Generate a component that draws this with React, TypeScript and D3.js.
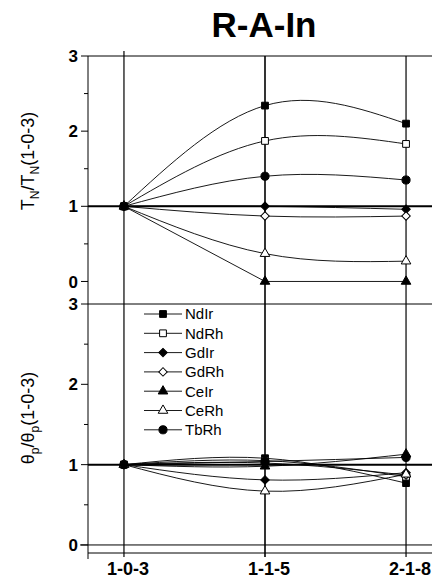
import React from "react";
import * as d3 from "d3";

const categories = ["1-0-3", "1-1-5", "2-1-8"];
const seriesNames = ["NdIr", "NdRh", "GdIr", "GdRh", "CeIr", "CeRh", "TbRh"];
const seriesShapes = ["square", "square", "diamond", "diamond", "triangle", "triangle", "circle"];
const seriesFilled = [true, false, true, false, true, false, true];

// Top panel: T_N / T_N(1-0-3)
const tnNdIr = [1, 2.34, 2.1];
const tnNdRh = [1, 1.87, 1.83];
const tnGdIr = [1, 1.0, 0.96];
const tnGdRh = [1, 0.87, 0.87];
const tnCeIr = [1, 0.0, 0.0];
const tnCeRh = [1, 0.37, 0.27];
const tnTbRh = [1, 1.4, 1.35];

// Bottom panel: theta_p / theta_p(1-0-3)
const thNdIr = [1, 1.08, 0.77];
const thNdRh = [1, 1.05, 0.85];
const thGdIr = [1, 0.81, 0.9];
const thGdRh = [1, 1.02, 0.87];
const thCeIr = [1, 0.98, 1.13];
const thCeRh = [1, 0.67, 0.88];
const thTbRh = [1, 1.04, 1.09];

const topTicks = [0, 1, 2, 3];
const topMinor = [0.5, 1.5, 2.5];
const botTicks = [0, 1, 2, 3];
const botMinor = [0.5, 1.5, 2.5];

const topSeries = [tnNdIr, tnNdRh, tnGdIr, tnGdRh, tnCeIr, tnCeRh, tnTbRh];
const botSeries = [thNdIr, thNdRh, thGdIr, thGdRh, thCeIr, thCeRh, thTbRh];

const FONT = "'Liberation Sans', Arial, Helvetica, sans-serif";
const W = 432;
const H = 587;
const LEFT = 88;

function markerPath(shape: string): string {
  if (shape === "square") return d3.symbol(d3.symbolSquare, 46)() as string;
  if (shape === "circle") return d3.symbol(d3.symbolCircle, 52)() as string;
  if (shape === "triangle") return d3.symbol(d3.symbolTriangle, 40)() as string;
  return d3.symbol(d3.symbolSquare, 36)() as string;
}

function Marker({ shape, filled, x, y }: { shape: string; filled: boolean; x: number; y: number }) {
  const rot = shape === "diamond" ? " rotate(45)" : "";
  return (
    <path
      d={markerPath(shape)}
      transform={`translate(${x},${y})${rot}`}
      fill={filled ? "#000" : "#fff"}
      stroke="#000"
      strokeWidth={1}
    />
  );
}

export default function App() {
  const x = d3.scaleLinear().domain([-0.255, 2.255]).range([LEFT, 442]);
  const yTop = d3.scaleLinear().domain([-0.3, 3]).range([304, 56]);
  const yBot = d3.scaleLinear().domain([-0.1, 3]).range([553, 304]);

  const makeLine = (y: d3.ScaleLinear<number, number>, curved: boolean) =>
    d3
      .line<number>()
      .x((_, i) => x(i))
      .y((v) => y(v))
      .curve(curved ? d3.curveNatural : d3.curveLinear);

  const panels = [
    { y: yTop, series: topSeries, ticks: topTicks, minor: topMinor },
    { y: yBot, series: botSeries, ticks: botTicks, minor: botMinor },
  ];

  const legendX = 144;
  const legendY0 = 314;
  const legendDy = 19.3;

  return (
    <div style={{ position: "fixed", left: 0, top: 0, width: W, height: H, background: "#fff" }}>
      <svg width={W} height={H} style={{ display: "block" }} fontFamily={FONT}>
        <rect width={W} height={H} fill="#fff" />
        {/* Title */}
        <text x={264} y={37} textAnchor="middle" fontSize={35} fontWeight="bold">
          R-A-In
        </text>

        {/* Frame / grid lines */}
        <line x1={LEFT} x2={W} y1={yTop(3)} y2={yTop(3)} stroke="#000" strokeWidth={1} />
        <line x1={LEFT} x2={W} y1={yBot(3)} y2={yBot(3)} stroke="#000" strokeWidth={1} />
        <line x1={LEFT} x2={W} y1={yTop(1)} y2={yTop(1)} stroke="#000" strokeWidth={2} />
        <line x1={LEFT} x2={W} y1={yBot(1)} y2={yBot(1)} stroke="#000" strokeWidth={2} />
        <line x1={LEFT - 8} x2={W} y1={yBot(0)} y2={yBot(0)} stroke="#000" strokeWidth={1} />
        <line x1={LEFT} x2={W} y1={553} y2={553} stroke="#000" strokeWidth={1} />
        <line x1={LEFT} x2={LEFT} y1={yTop(3)} y2={559} stroke="#000" strokeWidth={1} />
        {categories.map((c, i) => (
          <line
            key={c}
            x1={x(i)}
            x2={x(i)}
            y1={i === 0 ? 51 : yTop(3)}
            y2={557}
            stroke="#000"
            strokeWidth={i === 1 ? 1.6 : 1.2}
          />
        ))}

        {/* Y axes ticks and labels */}
        {panels.map((p, pi) => (
          <g key={pi}>
            {p.ticks.map((t) => (
              <g key={t}>
                <line x1={LEFT - 7} x2={LEFT} y1={p.y(t)} y2={p.y(t)} stroke="#000" strokeWidth={1} />
                <text
                  x={LEFT - 10}
                  y={p.y(t)}
                  dy="0.36em"
                  textAnchor="end"
                  fontSize={17}
                  fontWeight="bold"
                >
                  {t}
                </text>
              </g>
            ))}
            {p.minor.map((t) => (
              <line key={t} x1={LEFT - 4} x2={LEFT} y1={p.y(t)} y2={p.y(t)} stroke="#000" strokeWidth={1} />
            ))}
          </g>
        ))}

        {/* Y axis titles */}
        <text transform="translate(34,161) rotate(-90)" textAnchor="middle" fontSize={18}>
          T
          <tspan fontSize={12} dy={5}>N</tspan>
          <tspan dy={-5}>/T</tspan>
          <tspan fontSize={12} dy={5}>N</tspan>
          <tspan dy={-5}>(1-0-3)</tspan>
        </text>
        <text transform="translate(34,418) rotate(-90)" textAnchor="middle" fontSize={18}>
          θ
          <tspan fontSize={12} dy={5}>p</tspan>
          <tspan dy={-5}>/θ</tspan>
          <tspan fontSize={12} dy={5}>p</tspan>
          <tspan dy={-5}>(1-0-3)</tspan>
        </text>

        {/* X tick labels */}
        {categories.map((c, i) => (
          <text key={c} x={x(i) + 4} y={575} textAnchor="middle" fontSize={18} fontWeight="bold">
            {c}
          </text>
        ))}

        {/* Series lines */}
        {panels.map((p, pi) =>
          p.series.map((vals, si) => (
            <path
              key={`l${pi}-${si}`}
              d={makeLine(p.y, !(pi === 0 && seriesNames[si] === "CeIr"))(vals) as string}
              fill="none"
              stroke="#000"
              strokeWidth={0.9}
            />
          ))
        )}

        {/* Markers */}
        {panels.map((p, pi) =>
          p.series.map((vals, si) =>
            vals.map((v, i) => (
              <Marker
                key={`m${pi}-${si}-${i}`}
                shape={seriesShapes[si]}
                filled={seriesFilled[si]}
                x={x(i)}
                y={p.y(v)}
              />
            ))
          )
        )}

        {/* Legend */}
        {seriesNames.map((n, si) => {
          const ly = legendY0 + si * legendDy;
          return (
            <g key={n}>
              <line x1={legendX} x2={legendX + 38} y1={ly} y2={ly} stroke="#000" strokeWidth={0.9} />
              <Marker shape={seriesShapes[si]} filled={seriesFilled[si]} x={legendX + 19} y={ly} />
              <text x={legendX + 41} y={ly} dy="0.36em" fontSize={15}>
                {n}
              </text>
            </g>
          );
        })}
      </svg>
    </div>
  );
}
